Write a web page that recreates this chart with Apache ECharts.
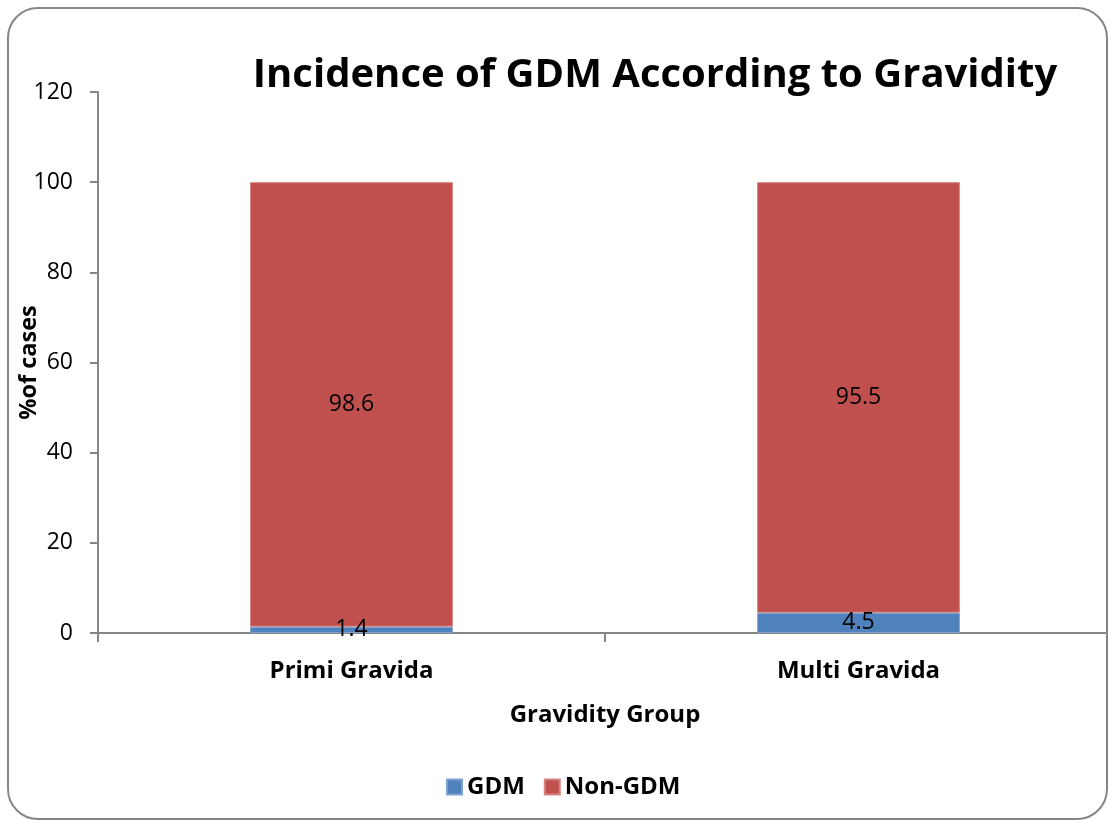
<!DOCTYPE html>
<html>
<head>
<meta charset="utf-8">
<script src="https://cdn.jsdelivr.net/npm/echarts@6/dist/echarts.min.js"></script>
<style>
  html, body { margin: 0; padding: 0; background: #fff; }
  #chart { width: 1108px; height: 820px; }
</style>
</head>
<body>
<div id="chart"></div>
<script>
// Gravidity groups and the share of cases in each outcome (%)
var categories = ['Primi Gravida', 'Multi Gravida'];
var gdmValues = [1.4, 4.5];
var nonGdmValues = [98.6, 95.5];
var seriesNames = ['GDM', 'Non-GDM'];
var yTicks = { min: 0, max: 120, interval: 20 };

var FONT = '"Open Sans", Lato, sans-serif';
var AXIS_GREY = '#868686';

var chart = echarts.init(document.getElementById('chart'), null, { renderer: 'canvas' });

function segmentLabel() {
  return {
    show: true,
    position: 'inside',
    color: '#000',
    fontFamily: FONT,
    fontSize: 23,
    formatter: function (p) { return p.value.toFixed(1); }
  };
}

chart.setOption({
  backgroundColor: '#fff',
  animation: false,
  title: {
    text: 'Incidence of GDM According to Gravidity',
    left: 650,
    textAlign: 'center',
    top: 51,
    textStyle: { fontFamily: FONT, fontSize: 40, fontWeight: 'bold', color: '#000' }
  },
  graphic: [{
    type: 'rect',
    shape: { x: 8, y: 8, width: 1099, height: 811, r: 30 },
    style: { fill: 'none', stroke: AXIS_GREY, lineWidth: 2 },
    z: -1
  }],
  legend: {
    data: seriesNames,
    bottom: 16,
    left: 441,
    itemWidth: 15,
    itemHeight: 15,
    itemGap: 19,
    icon: 'rect',
    textStyle: { fontFamily: FONT, fontSize: 24, fontWeight: 'bold', color: '#000' }
  },
  grid: { left: 98, right: -4, top: 92, bottom: 187, containLabel: false, outerBoundsMode: 'none' },
  xAxis: {
    type: 'category',
    data: categories,
    name: 'Gravidity Group',
    nameLocation: 'middle',
    nameGap: 70,
    nameTextStyle: { fontFamily: FONT, fontSize: 24, fontWeight: 'bold', color: '#000' },
    axisLine: { lineStyle: { color: AXIS_GREY, width: 2 } },
    axisTick: { show: true, length: 9, lineStyle: { color: AXIS_GREY, width: 2 } },
    axisLabel: { margin: 26, fontFamily: FONT, fontSize: 24, fontWeight: 'bold', color: '#000' }
  },
  yAxis: {
    type: 'value',
    min: yTicks.min,
    max: yTicks.max,
    interval: yTicks.interval,
    name: '%of cases',
    nameLocation: 'middle',
    nameGap: 57,
    nameRotate: 90,
    nameMoveOverlap: false,
    nameTextStyle: { fontFamily: FONT, fontSize: 23.5, fontWeight: 'bold', color: '#000' },
    splitLine: { show: false },
    axisLine: { show: true, lineStyle: { color: AXIS_GREY, width: 2 } },
    axisTick: { show: true, length: 8, lineStyle: { color: AXIS_GREY, width: 2 } },
    axisLabel: { margin: 25, fontFamily: FONT, fontSize: 23, color: '#000' }
  },
  series: [
    {
      name: seriesNames[0],
      type: 'bar',
      stack: 'total',
      barWidth: '40%',
      data: gdmValues,
      itemStyle: { color: '#4F81BD', borderColor: '#7FA3D1', borderWidth: 1 },
      label: segmentLabel()
    },
    {
      name: seriesNames[1],
      type: 'bar',
      stack: 'total',
      barWidth: '40%',
      data: nonGdmValues,
      itemStyle: { color: '#C0504D', borderColor: '#D48481', borderWidth: 1 },
      label: segmentLabel()
    }
  ]
});
</script>
</body>
</html>
